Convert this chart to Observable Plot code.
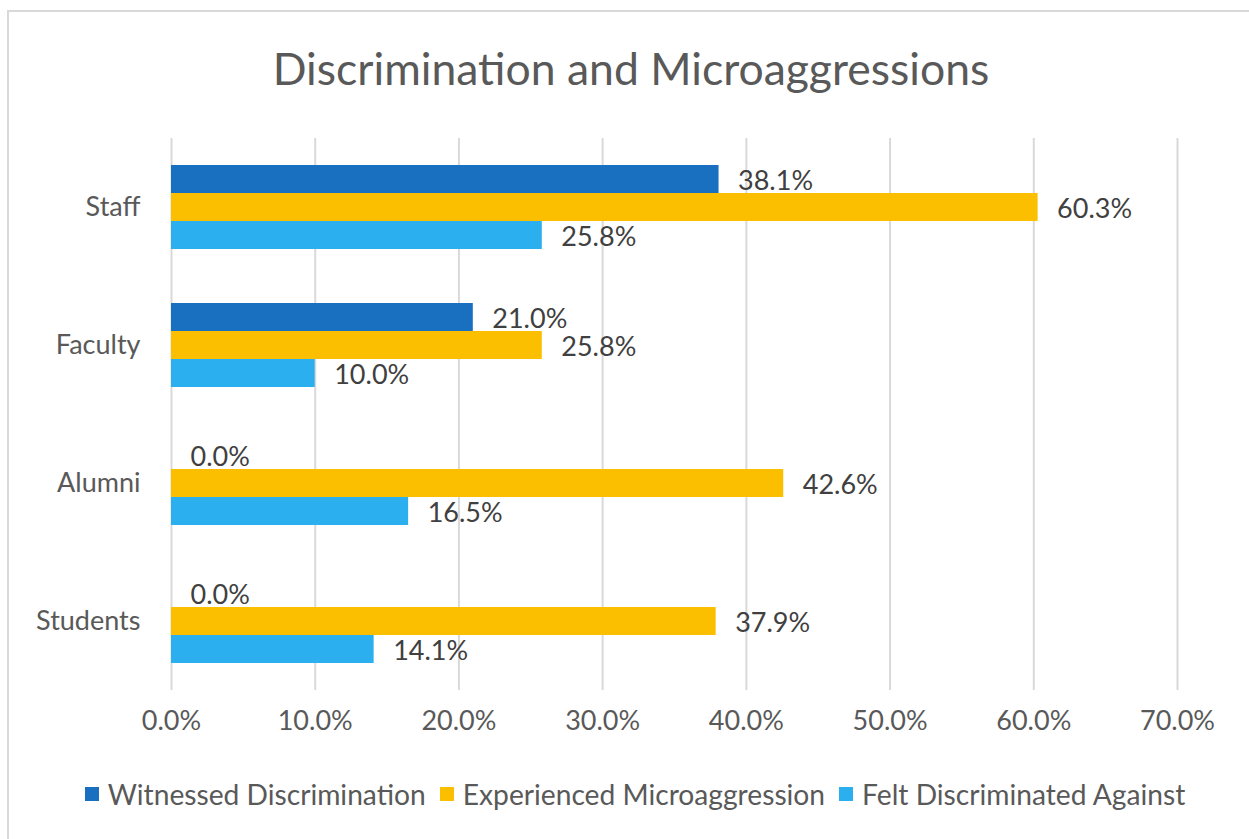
<!DOCTYPE html>
<html>
<head>
<meta charset="utf-8">
<script src="https://cdn.jsdelivr.net/npm/d3@7"></script>
<script src="https://cdn.jsdelivr.net/npm/@observablehq/plot@0.6"></script>
<style>
  html, body { margin: 0; padding: 0; background: #fff; }
  body { width: 1249px; height: 839px; overflow: hidden; position: relative; font-family: Lato, "Open Sans", sans-serif; }
  #frame { position: absolute; left: 7px; top: 10px; width: 1260px; height: 860px; border: 2px solid #d9d9d9; box-sizing: border-box; z-index: 5; pointer-events: none; }
  #title { position: absolute; left: 8px; width: 1246px; top: 38px; text-align: center; font-size: 44.5px; color: #595959; line-height: 60px; }
  #chart { position: absolute; left: 0; top: 100px; }
  #legend { position: absolute; left: 8px; width: 1254px; top: 777px; display: flex; justify-content: center; align-items: center; font-size: 28.2px; color: #595959; }
  .item { display: flex; align-items: center; margin: 0 7px; }
  .sw { width: 14px; height: 14px; margin-right: 9px; }
</style>
</head>
<body>
<div id="frame"></div>
<div id="title">Discrimination and Microaggressions</div>
<div id="chart"></div>
<div id="legend"></div>
<script>
const categories = ["Staff", "Faculty", "Alumni", "Students"];
const series = ["Witnessed Discrimination", "Experienced Microaggression", "Felt Discriminated Against"];
const witnessed = [38.1, 21.0, 0.0, 0.0];
const experienced = [60.3, 25.8, 42.6, 37.9];
const felt = [25.8, 10.0, 16.5, 14.1];
const colors = ["#1a70c0", "#fbbf00", "#2bafee"];
const xTicks = [0, 10, 20, 30, 40, 50, 60, 70];

const seriesValues = [witnessed, experienced, felt];
const data = [];
categories.forEach((c, i) => {
  series.forEach((s, j) => {
    data.push({category: c, series: s, value: seriesValues[j][i]});
  });
});

const fmt = d => d.toFixed(1) + "%";

const chart = Plot.plot({
  width: 1249,
  height: 650,
  marginTop: 37,
  marginBottom: 60,
  marginLeft: 171,
  marginRight: 72,
  style: {fontFamily: "Lato, 'Open Sans', sans-serif", fontSize: "27px", color: "#595959", background: "transparent", overflow: "visible"},
  x: {domain: [0, 70], ticks: xTicks, tickFormat: fmt, tickSize: 0, tickPadding: 20, label: null},
  y: {domain: series, axis: null, paddingInner: 0, paddingOuter: 0.9},
  fy: {domain: categories, padding: 0, label: null, tickSize: 0, tickPadding: 31, axis: "left"},
  color: {domain: series, range: colors},
  marks: [
    Plot.ruleX(xTicks, {stroke: "#d9d9d9", strokeWidth: 2}),
    Plot.barX(data, {x: "value", y: "series", fy: "category", fill: "series"}),
    Plot.text(data, {x: "value", y: "series", fy: "category", text: d => fmt(d.value), textAnchor: "start", dx: 19, dy: 2, fill: "#404040"})
  ]
});
document.getElementById("chart").appendChild(chart);

const legend = document.getElementById("legend");
series.forEach((s, j) => {
  const item = document.createElement("div");
  item.className = "item";
  const sw = document.createElement("div");
  sw.className = "sw";
  sw.style.background = colors[j];
  const label = document.createElement("span");
  label.textContent = s;
  item.appendChild(sw);
  item.appendChild(label);
  legend.appendChild(item);
});
</script>
</body>
</html>
